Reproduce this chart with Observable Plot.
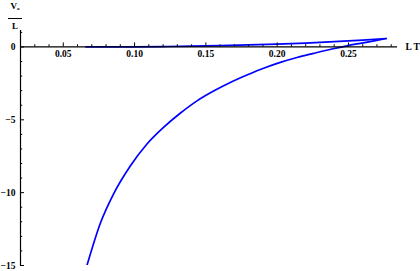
<!DOCTYPE html>
<html>
<head>
<meta charset="utf-8">
<script src="https://cdn.jsdelivr.net/npm/d3@7"></script>
<script src="https://cdn.jsdelivr.net/npm/@observablehq/plot@0.6"></script>
<style>
  html, body { margin: 0; padding: 0; background: #fff; }
  #wrap { position: relative; width: 420px; height: 271px; }
  .ylab { position: absolute; left: 8px; top: 1px; width: 14px; text-align: center;
          font-family: "Liberation Serif", serif; font-weight: bold; font-size: 9px; line-height: 10px; }
  .ylab .num { display: block; border-bottom: 1px solid #000; padding-bottom: 4px; }
  .ylab .den { display: block; padding-top: 2px; }
  .ylab sub { font-size: 5px; vertical-align: -1px; }
</style>
</head>
<body>
<div id="wrap">
  <div class="ylab"><span class="num">V<sub>a</sub></span><span class="den">L</span></div>
</div>
<script>
// Lower branch (x = L T, y = V_a / L)
const lowerX = [0.0666, 0.0760, 0.0853, 0.0970, 0.1087, 0.1203, 0.1320, 0.1438, 0.1554, 0.1671, 0.1788, 0.1905, 0.2022, 0.2139, 0.2255, 0.2384, 0.2489, 0.2583, 0.2680, 0.2765];
const lowerY = [-15.0, -12.10, -10.08, -8.17, -6.66, -5.52, -4.55, -3.70, -3.03, -2.44, -1.93, -1.46, -1.06, -0.72, -0.44, -0.14, 0.08, 0.25, 0.42, 0.58];
// Upper branch
const upperX = [0.0660, 0.0800, 0.1000, 0.1200, 0.1400, 0.1600, 0.1800, 0.2000, 0.2200, 0.2400, 0.2600, 0.2765];
const upperY = [0.00, 0.003, 0.012, 0.030, 0.055, 0.090, 0.140, 0.200, 0.270, 0.360, 0.470, 0.580];

const xMajor = [0.05, 0.10, 0.15, 0.20, 0.25];
const xMinor = [0.03, 0.04, 0.06, 0.07, 0.08, 0.09, 0.11, 0.12, 0.13, 0.14, 0.16, 0.17, 0.18, 0.19, 0.21, 0.22, 0.23, 0.24, 0.26, 0.27, 0.28];
const yMajor = [0, -5, -10, -15];
const yMinor = [1, -1, -2, -3, -4, -6, -7, -8, -9, -11, -12, -13, -14];
const xLabels = ["0.05", "0.10", "0.15", "0.20", "0.25"];
const yLabels = ["0", "\u22125", "\u221210", "\u221215"];
const xAxisTitle = "L T";

const xDomain = [0.02, 0.2844];
const yDomain = [-15, 1.13];

const lower = lowerX.map((x, i) => ({x, y: lowerY[i]}));
const upper = upperX.map((x, i) => ({x, y: upperY[i]}));

const W = 420, H = 271, mL = 20, mR = 23, mT = 30, mB = 6;
// tick lengths converted from pixels to data units
const pxPerY = (H - mT - mB) / (yDomain[1] - yDomain[0]);
const pxPerX = (W - mL - mR) / (xDomain[1] - xDomain[0]);
const tMaj = 4, tMin = 2.2;

const font = "Liberation Serif";
const chart = Plot.plot({
  width: W,
  height: H,
  marginLeft: mL,
  marginRight: mR,
  marginTop: mT,
  marginBottom: mB,
  x: {domain: xDomain, axis: null},
  y: {domain: yDomain, axis: null},
  style: {fontFamily: font, fontWeight: "bold", background: "#fff"},
  marks: [
    // curves
    Plot.line(lower, {x: "x", y: "y", stroke: "#0000ff", strokeWidth: 1.7, curve: "monotone-x", clip: true}),
    Plot.line(upper, {x: "x", y: "y", stroke: "#0000ff", strokeWidth: 1.7, curve: "monotone-x", clip: true}),
    // axes lines
    Plot.ruleY([0], {x1: xDomain[0], x2: xDomain[1], stroke: "#000", strokeWidth: 1.2}),
    Plot.ruleX([xDomain[0]], {y1: yDomain[0], y2: yDomain[1], stroke: "#000", strokeWidth: 1.2}),
    // x ticks (pointing up)
    Plot.ruleX(xMajor, {x: d => d, y1: 0, y2: tMaj / pxPerY, stroke: "#000", strokeWidth: 1}),
    Plot.ruleX(xMinor, {x: d => d, y1: 0, y2: tMin / pxPerY, stroke: "#000", strokeWidth: 1}),
    // y ticks (pointing right)
    Plot.ruleY(yMajor, {y: d => d, x1: xDomain[0], x2: xDomain[0] + tMaj / pxPerX, stroke: "#000", strokeWidth: 1}),
    Plot.ruleY(yMinor, {y: d => d, x1: xDomain[0], x2: xDomain[0] + tMin / pxPerX, stroke: "#000", strokeWidth: 1}),
    // tick labels
    Plot.text(xMajor, {x: d => d, y: () => 0, text: (d, i) => xLabels[i], dy: 7, fontSize: 9.5, fontWeight: "bold", fill: "#000"}),
    Plot.text(yMajor, {x: () => xDomain[0], y: d => d, text: (d, i) => yLabels[i], dx: -5, textAnchor: "end", fontSize: 9.5, fontWeight: "bold", fill: "#000"}),
    // x axis title
    Plot.text([xAxisTitle], {x: () => xDomain[1], y: () => 0, text: d => d, dx: 8, textAnchor: "start", fontSize: 9.5, fontWeight: "bold", fill: "#000"})
  ]
});
chart.style.position = "absolute";
chart.style.left = "0px";
chart.style.top = "0px";
document.getElementById("wrap").prepend(chart);
</script>
</body>
</html>
